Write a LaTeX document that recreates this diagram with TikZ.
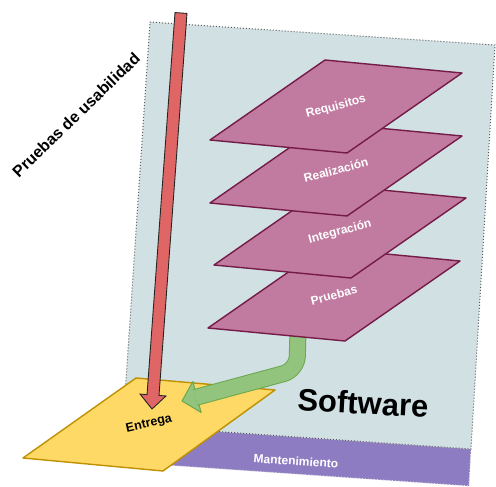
\documentclass[tikz,border=0pt]{standalone}
\usepackage{fontspec}
\setmainfont{Liberation Sans}
\usepackage{xcolor}
\usepackage{tikz}
\usetikzlibrary{calc,positioning}

\definecolor{sheetfill}{HTML}{D0E0E3}
\definecolor{stripfill}{HTML}{8E7CC3}
\definecolor{phasefill}{HTML}{C27BA0}
\definecolor{phasedraw}{HTML}{741B47}
\definecolor{deliveryfill}{HTML}{FFD966}
\definecolor{deliverydraw}{HTML}{BF9000}
\definecolor{testfill}{HTML}{E06666}
\definecolor{flowfill}{HTML}{93C47D}
\definecolor{flowdraw}{HTML}{6AA84F}

\begin{document}
\begin{tikzpicture}[x=1pt,y=-1pt,
    sheet/.style={fill=sheetfill,draw=gray!70!black,dotted,line width=1pt},
    strip/.style={fill=stripfill,draw=white!80!gray,dotted,line width=1pt},
    phase/.style={fill=phasefill,draw=phasedraw,line width=1.4pt,line join=round},
    phaselabel/.style={text=white,font=\bfseries\fontsize{12}{14}\selectfont,rotate=15},
    delivery/.style={fill=deliveryfill,draw=deliverydraw,line width=1.4pt,line join=round},
    testarrow/.style={fill=testfill,draw=black!85,line width=0.9pt},
    flow/.style={draw=flowdraw,line width=1pt,double=flowfill,double distance=15pt,rounded corners=14pt},
    flowhead/.style={fill=flowfill,draw=flowdraw,line width=1pt,line join=round}
  ]
  \useasboundingbox (0,0) rectangle (496,487);

  % Maintenance strip under the sheet
  \draw[strip] (123,425) -- (471,449) -- (469,486) -- (121,462) -- cycle;
  \node[text=white,font=\bfseries\fontsize{12}{14}\selectfont,rotate=-4] (mant) at (296,461) {Mantenimiento};

  % Software sheet
  \draw[sheet] (150,22) -- (495,45) -- (471,449) -- (123,425) -- cycle;
  \node[font=\bfseries\fontsize{31}{36}\selectfont,rotate=-3] (soft) at (363,403) {Software};

  % Delivery
  \draw[delivery] (23,458) -- (136,378) -- (275,390) -- (163,471) -- cycle;
  \node[font=\bfseries\fontsize{12.5}{14}\selectfont,rotate=13] (entrega) at (149,424) {Entrega};

  % Flow from the last phase into delivery
  \coordinate (flowstart) at (298,330);
  \coordinate (flowbend) at (297,370);
  \coordinate (flowend) at (197,397);
  \coordinate (flowtip) at (182,401);
  \draw[flowhead] ($(flowend)!16pt!90:(flowtip)$) -- (flowtip) -- ($(flowend)!16pt!-90:(flowtip)$) -- cycle;
  \draw[flow,shorten >=-1.5pt] (flowstart) -- (flowbend) -- (flowend);

  % Phases, bottom to top
  \coordinate (pru) at (208,328);
  \draw[phase] (pru) -- ++(137,13) -- ++(115,-80) -- ++(-137,-13) -- cycle;
  \node[phaselabel] (prulabel) at ($(pru)+(126,-33)$) {Pruebas};

  \coordinate (int) at (214,265);
  \draw[phase] (int) -- ++(137,13) -- ++(115,-80) -- ++(-137,-13) -- cycle;
  \node[phaselabel] (intlabel) at ($(int)+(126,-33)$) {Integración};

  \coordinate (rea) at (210,203);
  \draw[phase] (rea) -- ++(137,13) -- ++(115,-80) -- ++(-137,-13) -- cycle;
  \node[phaselabel] (realabel) at ($(rea)+(126,-33)$) {Realización};

  \coordinate (req) at (210,140);
  \draw[phase] (req) -- ++(137,13) -- ++(115,-80) -- ++(-137,-13) -- cycle;
  \node[phaselabel] (reqlabel) at ($(req)+(126,-33)$) {Requisitos};

  % Usability tests arrow
  \coordinate (testtop) at (181,13);
  \coordinate (testtip) at (152,409);
  \coordinate (testbase) at ($(testtip)!14pt!(testtop)$);
  \draw[testarrow] ($(testtop)!6pt!90:(testtip)$) -- ($(testbase)!6pt!-90:(testtop)$)
    -- ($(testbase)!13pt!-90:(testtop)$) -- (testtip) -- ($(testbase)!13pt!90:(testtop)$)
    -- ($(testbase)!6pt!90:(testtop)$) -- ($(testtop)!6pt!-90:(testtip)$) -- cycle;
  \node[font=\bfseries\fontsize{16}{18}\selectfont,rotate=44] (usab) at (76,115) {Pruebas de usabilidad};
\end{tikzpicture}
\end{document}
